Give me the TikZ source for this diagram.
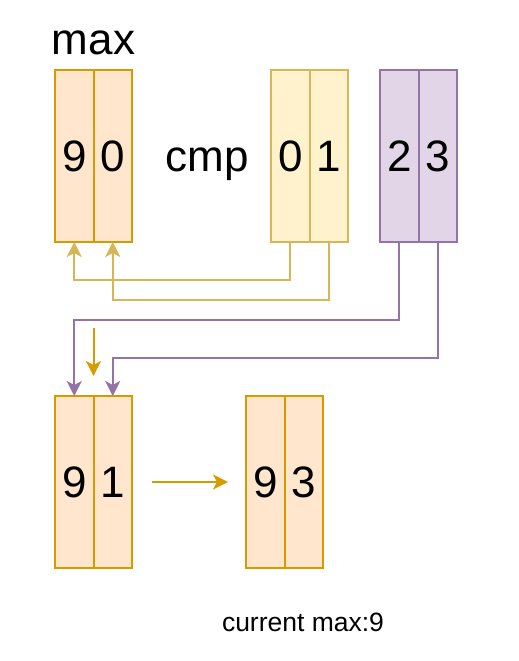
\documentclass[tikz,border=0pt]{standalone}
\usepackage{fontspec}
\setmainfont{Liberation Sans}
\usepackage{xcolor}
\usepackage{tikz}
\usetikzlibrary{arrows.meta,positioning,calc}

\definecolor{ofill}{HTML}{FFE6CC}
\definecolor{oline}{HTML}{D79B00}
\definecolor{yfill}{HTML}{FFF2CC}
\definecolor{yline}{HTML}{D6B656}
\definecolor{pfill}{HTML}{E1D5E7}
\definecolor{pline}{HTML}{9673A6}

\begin{document}
\begin{tikzpicture}[
    x=1pt, y=1pt,
    cell/.style={rectangle, line width=2pt, minimum width=38.5pt, minimum height=172pt, inner sep=0pt, outer sep=0pt, font=\fontsize{44}{50}\selectfont},
    ocell/.style={cell, draw=oline, fill=ofill},
    ycell/.style={cell, draw=yline, fill=yfill},
    pcell/.style={cell, draw=pline, fill=pfill},
    big/.style={inner sep=0pt, font=\fontsize{44}{50}\selectfont},
    small/.style={inner sep=0pt, font=\fontsize{26.5}{30}\selectfont},
    yarrow/.style={-{Stealth[length=15pt,width=15pt,inset=4pt]}, draw=yline, line width=2pt},
    parrow/.style={-{Stealth[length=15pt,width=15pt,inset=4pt]}, draw=pline, line width=2pt},
    oarrow/.style={-{Stealth[length=15pt,width=15pt,inset=4pt]}, draw=oline, line width=2pt}
]
\useasboundingbox (0,0) rectangle (519,-661);

% Top row
\node[ocell, anchor=north west] (max0) at (55,-70) {9};
\node[ocell, right=0pt of max0] (max1) {0};
\node[big, above=15pt of max0.north east] (maxlbl) {max};

\node[big, anchor=base] (cmplbl) at (207,-171) {cmp};
\node[ycell, anchor=north west] (cmp0) at (271,-70) {0};
\node[ycell, right=0pt of cmp0] (cmp1) {1};

\node[pcell, anchor=north west] (nxt0) at (380,-70) {2};
\node[pcell, right=0pt of nxt0] (nxt1) {3};

% Bottom row
\node[ocell, anchor=north west] (res0) at (55,-396) {9};
\node[ocell, right=0pt of res0] (res1) {1};

\node[ocell, anchor=north west] (out0) at (246,-396) {9};
\node[ocell, right=0pt of out0] (out1) {3};

\node[small] (curmax) at (303,-622) {current max:9};

% Connections
\draw[yarrow] (cmp0.south) -- ++(0,-38) -| (max0.south);
\draw[yarrow] (cmp1.south) -- ++(0,-58) -| (max1.south);

\draw[parrow] (nxt0.south) -- ++(0,-78) -| (res0.north);
\draw[parrow] (nxt1.south) -- ++(0,-116) -| (res1.north);

\coordinate (dropfrom) at ($(res0.north east)+(0,68)$);
\coordinate (dropto) at ($(res0.north east)+(0,20)$);
\draw[oarrow] (dropfrom) -- (dropto);

\draw[oarrow] ([xshift=20pt]res1.east) -- ([xshift=-18pt]out0.west);

\end{tikzpicture}
\end{document}
